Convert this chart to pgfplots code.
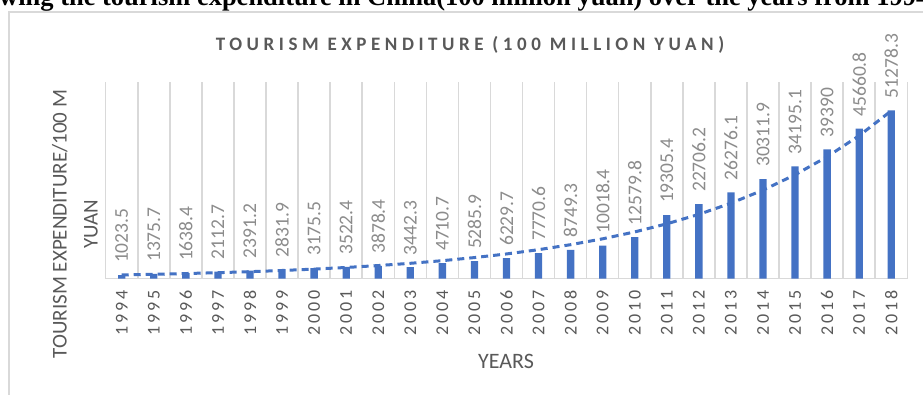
\documentclass[border=0pt]{standalone}
\usepackage{fontspec}
\setmainfont{Carlito}
\newfontfamily\timesfont{Liberation Serif}
\usepackage{pgfplots}
\usepackage{pgfplotstable}
\pgfplotsset{compat=1.18}
\definecolor{barblue}{HTML}{4472C4}
\definecolor{gridgrey}{HTML}{D9D9D9}
\definecolor{tickgrey}{HTML}{595959}
\definecolor{labgrey}{HTML}{8C8C8C}
\definecolor{titlegrey}{HTML}{595959}

\pgfplotstableread{
x y label
0 1023.5 1023.5
1 1375.7 1375.7
2 1638.4 1638.4
3 2112.7 2112.7
4 2391.2 2391.2
5 2831.9 2831.9
6 3175.5 3175.5
7 3522.4 3522.4
8 3878.4 3878.4
9 3442.3 3442.3
10 4710.7 4710.7
11 5285.9 5285.9
12 6229.7 6229.7
13 7770.6 7770.6
14 8749.3 8749.3
15 10018.4 10018.4
16 12579.8 12579.8
17 19305.4 19305.4
18 22706.2 22706.2
19 26276.1 26276.1
20 30311.9 30311.9
21 34195.1 34195.1
22 39390 39390
23 45660.8 45660.8
24 51278.3 51278.3
}\datatable

\pgfplotstableread{
x y
0 1096.6
1 1287.0
2 1510.4
3 1772.7
4 2080.4
5 2441.6
6 2865.5
7 3363.0
8 3946.9
9 4632.1
10 5436.3
11 6380.1
12 7487.8
13 8787.7
14 10313.4
15 12103.9
16 14205.3
17 16671.5
18 19565.9
19 22962.7
20 26949.3
21 31628.0
22 37119.1
23 43563.4
24 51126.6
}\trendtable

\begin{document}
\begin{tikzpicture}
\useasboundingbox (0,0) rectangle (923pt,394pt);
\clip (0,0) rectangle (923pt,394pt);
\fill[white] (0,0) rectangle (923pt,394pt);
% figure caption (cut at top)
\node[anchor=base west, inner sep=0pt] at (-1pt,388pt)
  {\resizebox{930pt}{!}{\timesfont\bfseries wing the tourism expenditure in China(100 million yuan) over the years from 1994}};
% chart frame
\draw[gridgrey, line width=2pt] (9pt,-20pt) -- (9pt,382pt) -- (940pt,382pt);
% chart title
\node[text=titlegrey, inner sep=0pt] at (470pt,349pt)
  {\fontsize{19}{19}\selectfont\bfseries\addfontfeatures{LetterSpace=24}TOURISM EXPENDITURE (100 MILLION YUAN)};
% y label
\node[text=tickgrey, rotate=90, align=center, inner sep=0pt,
  font=\fontsize{21}{31}\selectfont] at (75pt,170pt)
  {TOURISM EXPENDITURE/100 M\\YUAN};
% x label
\node[text=tickgrey, inner sep=0pt] at (506pt,33pt)
  {\fontsize{22}{22}\selectfont YEARS};
\begin{axis}[
  at={(105.7pt,115.5pt)}, anchor=south west,
  scale only axis, width=801.6pt, height=196.8pt,
  xmin=-0.5, xmax=24.5, ymin=0, ymax=60000,
  axis y line=none,
  axis x line=bottom,
  x axis line style={gridgrey, line width=1.5pt, -},
  xtick={0,...,24},
  xticklabels={1994,1995,1996,1997,1998,1999,2000,2001,2002,2003,2004,2005,2006,2007,2008,2009,2010,2011,2012,2013,2014,2015,2016,2017,2018},
  minor xtick={-0.5,0.5,...,24.5},
  xminorgrids=true,
  minor grid style={gridgrey, line width=1.5pt},
  major tick length=0pt, minor tick length=0pt,
  xticklabel style={rotate=90, anchor=east, text=tickgrey, inner xsep=12pt,
    font=\fontsize{18}{18}\selectfont\addfontfeatures{LetterSpace=15}},
  clip=false,
]
\addplot[ybar, bar width=7.3pt, fill=barblue, draw=none,
  nodes near coords, point meta=explicit symbolic,
  every node near coord/.append style={rotate=90, anchor=west, inner xsep=12pt,
    text=labgrey, font=\fontsize{19.5}{19.5}\selectfont}]
  table[x=x, y=y, meta=label] {\datatable};
\addplot[barblue, line width=3pt, dash pattern=on 7pt off 5pt, no marks]
  table[x=x, y=y] {\trendtable};
\end{axis}
\end{tikzpicture}
\end{document}
